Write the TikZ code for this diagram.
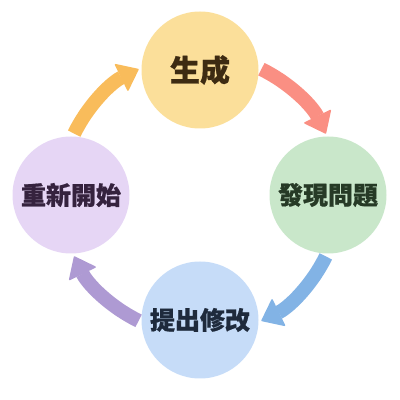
\documentclass[tikz,border=0pt]{standalone}
\usepackage{fontspec}
\newfontfamily\cjk{Noto Sans CJK TC}[BoldFeatures={FakeBold=0.7}]
\usetikzlibrary{arrows.meta,calc}
\definecolor{cYel}{HTML}{FBDF9A}
\definecolor{cGrn}{HTML}{C9E7CA}
\definecolor{cBlu}{HTML}{C6DCF8}
\definecolor{cPur}{HTML}{E6D6F5}
\definecolor{aYel}{HTML}{F9BC5B}
\definecolor{aRed}{HTML}{FA8F83}
\definecolor{aBlu}{HTML}{82B3E5}
\definecolor{aPur}{HTML}{AE9AD3}
\definecolor{tYel}{HTML}{3D2B12}
\definecolor{tGrn}{HTML}{263A26}
\definecolor{tBlu}{HTML}{1E2A3C}
\definecolor{tPur}{HTML}{35223E}
\begin{document}
\begin{tikzpicture}[x=1pt,y=1pt,
  bub/.style={circle, minimum size=117pt, inner sep=0pt, font=\cjk\bfseries\fontsize{25}{25}\selectfont},
  cyc/.style={line width=14pt, -{Triangle[width=31pt,length=20pt,round,line width=1.5pt]}}]
\useasboundingbox (0,0) rectangle (400,400);
\coordinate (c) at (200,205);
\node[bub, fill=cYel, text=tYel, font=\cjk\bfseries\fontsize{30}{30}\selectfont] (gen) at (200,330) {生成};
\node[bub, fill=cGrn, text=tGrn] (find) at (328,205) {發現問題};
\node[bub, fill=cBlu, text=tBlu] (fix) at (200,80) {提出修改};
\node[bub, fill=cPur, text=tPur] (restart) at (71,205) {重新開始};
\draw[cyc, draw=aYel, fill=aYel] ($(c)+(154:140)$) arc[start angle=154, end angle=116, radius=140];
\draw[cyc, draw=aRed, fill=aRed] ($(c)+(64:140)$) arc[start angle=64, end angle=26, radius=140];
\draw[cyc, draw=aBlu, fill=aBlu] ($(c)+(-26:140)$) arc[start angle=-26, end angle=-64, radius=140];
\draw[cyc, draw=aPur, fill=aPur] ($(c)+(-116:140)$) arc[start angle=-116, end angle=-154, radius=140];
\end{tikzpicture}
\end{document}
